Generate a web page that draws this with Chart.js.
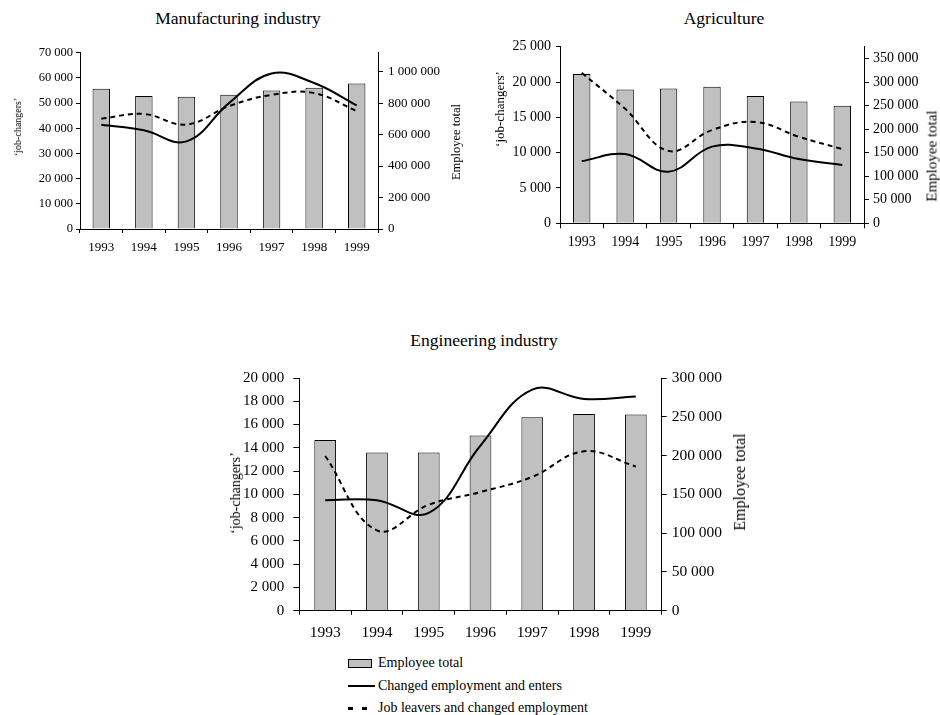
<!DOCTYPE html>
<html>
<head>
<meta charset="utf-8">
<script src="https://cdn.jsdelivr.net/npm/chart.js@4"></script>
<style>
  body { margin: 0; background: #fff; overflow: hidden; }
  #page { position: relative; width: 940px; height: 715px; font-family: 'Liberation Serif', 'Times New Roman', serif; color: #000; }
  #page canvas { position: absolute; }
  .lbl { position: absolute; transform: translate(-50%, -50%); white-space: nowrap; line-height: 1; }
  .vlbl { position: absolute; transform: translate(-50%, -50%) rotate(-90deg); white-space: nowrap; line-height: 1; }
  #legend { position: absolute; left: 348px; top: 652px; font-size: 14px; }
  #legend .row { display: flex; align-items: center; height: 22.5px; }
</style>
</head>
<body>
<div id="page">
  <canvas id="manuf" width="470" height="230" style="left:0; top:40px"></canvas>
  <canvas id="agri" width="470" height="235" style="left:470px; top:30px"></canvas>
  <canvas id="eng" width="560" height="290" style="left:200px; top:360px"></canvas>

  <div class="lbl" style="left:238px; top:19px; font-size:17.5px">Manufacturing industry</div>
  <div class="vlbl" style="left:18px; top:127px; font-size:10px">‘job-changers’</div>
  <div class="vlbl" style="left:456px; top:142px; font-size:12.5px">Employee total</div>

  <div class="lbl" style="left:724px; top:19px; font-size:17.5px">Agriculture</div>
  <div class="vlbl" style="left:499px; top:109px; font-size:13px">‘job-changers’</div>
  <div class="vlbl" style="left:932px; top:156px; font-size:15px">Employee total</div>

  <div class="lbl" style="left:484px; top:341px; font-size:17.5px">Engineering industry</div>
  <div class="vlbl" style="left:236px; top:493px; font-size:14px">‘job-changers’</div>
  <div class="vlbl" style="left:740px; top:482px; font-size:16px">Employee total</div>

  <div id="legend"></div>
</div>

<script>
// anos y nombres de las series
const years = ['1993', '1994', '1995', '1996', '1997', '1998', '1999'];
const seriesNames = ['Employee total', 'Changed employment and enters', 'Job leavers and changed employment'];

// Manufacturing industry
const manufEmployees = [892000, 845000, 841000, 854000, 880000, 898000, 925000];
const manufChanged = [41400, 39200, 34800, 50000, 61800, 58000, 49100];
const manufLeavers = [43800, 45700, 41500, 48800, 53300, 54000, 46800];
const manufLeftTicks = [0, 10000, 20000, 30000, 40000, 50000, 60000, 70000];
const manufRightTicks = [0, 200000, 400000, 600000, 800000, 1000000];
const manufRightMax = 1120000;

// Agriculture
const agriEmployees = [316800, 284300, 286500, 289900, 270100, 258900, 249500];
const agriChanged = [8800, 9800, 7300, 10850, 10600, 9100, 8250];
const agriLeavers = [21300, 16200, 10250, 13200, 14350, 12250, 10500];
const agriLeftTicks = [0, 5000, 10000, 15000, 20000, 25000];
const agriRightTicks = [0, 50000, 100000, 150000, 200000, 250000, 300000, 350000];
const agriRightMax = 375000;

// Engineering industry
const engEmployees = [220000, 204000, 204000, 226000, 249500, 253500, 253000];
const engChanged = [9500, 9500, 8400, 14200, 19000, 18200, 18400];
const engLeavers = [13300, 6900, 9100, 10200, 11500, 13700, 12400];
const engLeftTicks = [0, 2000, 4000, 6000, 8000, 10000, 12000, 14000, 16000, 18000, 20000];
const engRightTicks = [0, 50000, 100000, 150000, 200000, 250000, 300000];
const engRightMax = 300000;

const FONT = "'Liberation Serif', 'Times New Roman', serif";
const BAR_GREY = '#c0c0c0';
const LEAVER_DASH = [5, 4];

// 70000 -> "70 000"
const fmt = v => String(v).replace(/\B(?=(\d{3})+(?!\d))/g, ' ');

function yAxis(position, tickValues, max, s) {
  return {
    position: position,
    min: 0,
    max: max,
    bounds: 'data',
    grid: { drawOnChartArea: false, color: '#000', tickLength: s.tick },
    border: { color: '#000' },
    ticks: {
      padding: s.pad,
      color: '#000',
      font: { family: FONT, size: s.font },
      callback: fmt
    },
    // marcas fijas del eje
    afterBuildTicks: scale => { scale.ticks = tickValues.map(v => ({ value: v })); },
    afterFit: scale => { scale.width = s.width; }
  };
}

function drawChart(id, d) {
  return new Chart(document.getElementById(id), {
    type: 'bar',
    data: {
      labels: years,
      datasets: [
        {
          label: seriesNames[0],
          data: d.employees,
          yAxisID: 'y1',
          backgroundColor: BAR_GREY,
          borderColor: '#000',
          borderWidth: 1,
          barPercentage: d.barPct,
          categoryPercentage: 1,
          order: 2
        },
        {
          type: 'line',
          label: seriesNames[1],
          data: d.changed,
          yAxisID: 'y',
          borderColor: '#000',
          borderWidth: 2,
          pointRadius: 0,
          tension: 0.4,
          fill: false,
          order: 1
        },
        {
          type: 'line',
          label: seriesNames[2],
          data: d.leavers,
          yAxisID: 'y',
          borderColor: '#000',
          borderWidth: 2,
          borderDash: LEAVER_DASH,
          pointRadius: 0,
          tension: 0.4,
          fill: false,
          order: 0
        }
      ]
    },
    options: {
      responsive: false,
      animation: false,
      layout: { padding: { top: d.top, left: 0, right: 0, bottom: 0 } },
      plugins: { legend: { display: false }, tooltip: { enabled: false } },
      scales: {
        x: {
          grid: { offset: true, drawOnChartArea: false, color: '#000', tickLength: d.x.tick },
          border: { color: '#000' },
          ticks: {
            autoSkip: false,
            maxRotation: 0,
            padding: d.x.pad,
            color: '#000',
            font: { family: FONT, size: d.x.font }
          },
          afterFit: scale => { scale.height = d.x.height; }
        },
        y: yAxis('left', d.leftTicks, d.leftTicks[d.leftTicks.length - 1], d.left),
        y1: yAxis('right', d.rightTicks, d.rightMax, d.right)
      }
    }
  });
}

drawChart('manuf', {
  employees: manufEmployees, changed: manufChanged, leavers: manufLeavers,
  leftTicks: manufLeftTicks, rightTicks: manufRightTicks, rightMax: manufRightMax,
  barPct: 0.41, top: 11,
  left: { width: 80, tick: 4, pad: 3, font: 12.5 },
  right: { width: 92, tick: 5, pad: 5, font: 13 },
  x: { height: 41, tick: 4, pad: 7, font: 13 }
});

drawChart('agri', {
  employees: agriEmployees, changed: agriChanged, leavers: agriLeavers,
  leftTicks: agriLeftTicks, rightTicks: agriRightTicks, rightMax: agriRightMax,
  barPct: 0.4, top: 16.7,
  left: { width: 90, tick: 4, pad: 5, font: 14 },
  right: { width: 76, tick: 5, pad: 4, font: 14 },
  x: { height: 41.7, tick: 5, pad: 6, font: 14 }
});

drawChart('eng', {
  employees: engEmployees, changed: engChanged, leavers: engLeavers,
  leftTicks: engLeftTicks, rightTicks: engRightTicks, rightMax: engRightMax,
  barPct: 0.42, top: 16,
  left: { width: 99.3, tick: 6, pad: 9, font: 15 },
  right: { width: 98.3, tick: 5, pad: 5, font: 15.5 },
  x: { height: 39.3, tick: 4, pad: 9, font: 15.5 }
});

// leyenda comun debajo del ultimo grafico
const legend = document.getElementById('legend');
const swatches = [
  '<span style="display:inline-block; box-sizing:border-box; width:24px; height:9px; background:' + BAR_GREY + '; border:1px solid #000; margin-right:6px"></span>',
  '<span style="display:inline-block; width:27px; height:2px; background:#000; margin-right:3px"></span>',
  '<span style="display:inline-block; width:5px; height:3px; background:#000; margin-right:9px"></span>' +
  '<span style="display:inline-block; width:5px; height:3px; background:#000; margin-right:11px"></span>'
];
seriesNames.forEach((name, i) => {
  const row = document.createElement('div');
  row.className = 'row';
  row.innerHTML = swatches[i] + '<span>' + name + '</span>';
  legend.appendChild(row);
});
</script>
</body>
</html>
